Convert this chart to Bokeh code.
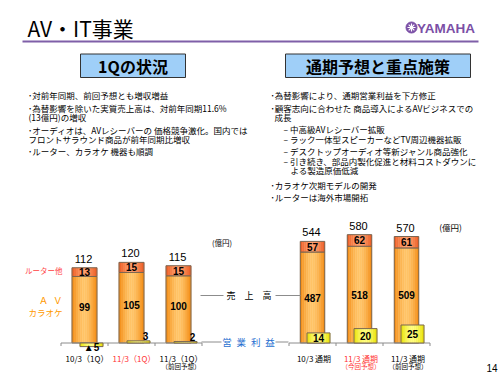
from bokeh.plotting import figure
from bokeh.models import Range1d
from bokeh.core.properties import value
from bokeh.embed import file_html
from bokeh.resources import INLINE

# ---------------- data ----------------
q_cats = ["10/3（1Q）", "11/3（1Q）", "11/3（1Q）"]
q_subs = ["", "", "（前回予想）"]
q_cat_colors = ["#000000", "#FF3333", "#000000"]
q_av = [99, 105, 100]
q_other = [13, 15, 15]
q_total = [112, 120, 115]
q_profit = [-5, 3, 2]
q_profit_labels = ["▲5", "3", "2"]

fy_cats = ["10/3 通期", "11/3 通期", "11/3 通期"]
fy_subs = ["", "（今回予想）", "（前回予想）"]
fy_cat_colors = ["#000000", "#FF3333", "#000000"]
fy_av = [487, 518, 509]
fy_other = [57, 62, 61]
fy_total = [544, 580, 570]
fy_profit = [14, 20, 25]
fy_profit_labels = ["14", "20", "25"]

left_lines = [
    "･対前年同期、前回予想とも増収増益",
    "･為替影響を除いた実質売上高は、対前年同期11.6%",
    "(13億円)の増収",
    "･オーディオは、AVレシーバーの 価格競争激化。国内では",
    "フロントサラウンド商品が前年同期比増収",
    "･ルーター、カラオケ 機器も順調",
]
right_lines = [
    "･為替影響により、通期営業利益を下方修正",
    "･顧客志向に合わせた 商品導入によるAVビジネスでの",
    "成長",
    "–  中高級AVレシーバー拡販",
    "–  ラック一体型スピーカーなどTV周辺機器拡販",
    "–  デスクトップオーディオ等新ジャンル商品強化",
    "–  引き続き、部品内製化促進と材料コストダウンに",
    "よる製造原価低減",
    "･カラオケ次期モデルの開発",
    "･ルーターは海外市場開拓",
]

# ---------------- layout / style ----------------
JP = "Noto Sans CJK JP"
NUM = "Liberation Sans"
W, H = 500, 375
X0, Y0 = 0, 0
BASE = 342.5
S_Q, S_FY, S_OP = 0.672, 0.1868, 0.72

p = figure(width=W, height=H, x_range=Range1d(X0, X0 + W), y_range=Range1d(Y0 + H, Y0),
           output_backend="svg", toolbar_location=None, x_axis_type=None, y_axis_type=None,
           min_border=0, outline_line_color=None, background_fill_color="white",
           border_fill_color="white")
p.grid.visible = False


def rng(s):
    a = -(Y0 + H - BASE) / s
    return Range1d(a, a + H / s)


p.extra_y_ranges = {"q": rng(S_Q), "fy": rng(S_FY), "op": rng(S_OP)}


def txt(x, y, t, size, color="#000000", align="left", baseline="middle", font=JP,
        style="normal", rname="default", yoff=0):
    xs = x if isinstance(x, list) else [x]
    ys = y if isinstance(y, list) else [y]
    ts = t if isinstance(t, list) else [t]
    p.text(x=xs, y=ys, text=ts, text_font=value(font), text_font_size=size,
           text_color=color, text_align=align, text_baseline=baseline,
           text_font_style=style, y_range_name=rname, y_offset=yoff)


def mix(c1, c2, t):
    a = [int(c1[i:i + 2], 16) for i in (1, 3, 5)]
    b = [int(c2[i:i + 2], 16) for i in (1, 3, 5)]
    return "#%02x%02x%02x" % tuple(round(a[k] + (b[k] - a[k]) * t) for k in range(3))


BORDER = "#7a6652"


def grad_bars(xcs, w, bottoms, tops, c_edge, c_mid, rname, n=12):
    xs, ws, bs, ts, cs = [], [], [], [], []
    for xc, b, t in zip(xcs, bottoms, tops):
        for k in range(n):
            x = xc - w / 2 + (k + 0.5) * w / n
            f = abs(x - xc) / (w / 2)
            xs.append(x); ws.append(w / n + 0.4); bs.append(b); ts.append(t)
            cs.append(mix(c_mid, c_edge, f ** 1.6))
    p.vbar(x=xs, width=ws, bottom=bs, top=ts, fill_color=cs, line_color=None, y_range_name=rname)
    p.vbar(x=xcs, width=w, bottom=bottoms, top=tops, fill_color=None, line_color=BORDER,
           line_width=1, y_range_name=rname)


MAIN_EDGE, MAIN_MID = "#f28a12", "#ffc468"
TOP_EDGE, TOP_MID = "#ea5a22", "#ff9a66"
YEL_EDGE, YEL_MID = "#e8e000", "#ffff80"

# ---------------- header ----------------
txt(27, 27, "AV・IT事業", "21px")
p.segment(x0=[22], y0=[41], x1=[478], y1=[41], line_color="#7f5fa8", line_width=2)
p.scatter(x=[411], y=[27], size=11, marker="circle", fill_color="#7b4fa6", line_color="#7b4fa6")
p.scatter(x=[411], y=[27], size=8, marker="asterisk", line_color="white", line_width=1.2)
txt(416.5, 27.5, "YAMAHA", "13.5px", color="#7b4fa6", font=NUM, style="bold")

# section boxes
p.quad(left=[80, 285], right=[185, 470], top=[53.5, 53.5], bottom=[77, 77],
       fill_color="#9fcff8", line_color="#333333", line_width=1)
txt(132.5, 65.5, "1Qの状況", "16px", align="center", style="bold")
txt(377.5, 65.5, "通期予想と重点施策", "16px", align="center", style="bold")

left_x = [27.5, 27.5, 28, 27.5, 28, 27.5]
left_y = [94.3, 107.3, 116.5, 129, 138.3, 150]
txt(left_x, left_y, left_lines, "8.5px")
right_x = [270, 270, 274, 283, 283, 283, 283, 290, 270, 270]
right_y = [94.3, 107.3, 116.7, 128.3, 138.3, 150, 160.5, 169.5, 184.5, 196.5]
txt(right_x, right_y, right_lines, "8.5px")

# ---------------- chart ----------------
SP = 47
qx = [84 + i * SP for i in range(3)]
fx = [312 + i * SP for i in range(3)]

# quarterly sales bars
grad_bars(qx, 25, [0] * 3, q_av, MAIN_EDGE, MAIN_MID, "q")
grad_bars(qx, 25, q_av, q_total, TOP_EDGE, TOP_MID, "q")
# annual sales bars
grad_bars(fx, 24.5, [0] * 3, fy_av, MAIN_EDGE, MAIN_MID, "fy")
grad_bars(fx, 24.5, fy_av, fy_total, TOP_EDGE, TOP_MID, "fy")

# baselines with ticks
for xs in (qx, fx):
    a, b = xs[0] - SP / 2, xs[-1] + SP / 2
    ticks = [a, (xs[0] + xs[1]) / 2, (xs[1] + xs[2]) / 2, b]
    p.segment(x0=[a], y0=[BASE], x1=[b], y1=[BASE], line_color="#8c8c8c", line_width=1)
    p.segment(x0=ticks, y0=[BASE] * 4, x1=ticks, y1=[BASE + 3] * 4, line_color="#8c8c8c", line_width=1)

# operating profit bars
qpx = [x + 7 for x in qx]
fpx = [x + 6 for x in fx]
grad_bars(qpx, 23, [0] * 3, q_profit, YEL_EDGE, YEL_MID, "op")
grad_bars(fpx, 23, [0] * 3, fy_profit, YEL_EDGE, YEL_MID, "op")

# value labels
txt([x - 1 for x in qx], q_total, [str(v) for v in q_total], "11px", font=NUM,
    align="center", baseline="bottom", rname="q", yoff=-5)
txt([x - 1 for x in fx], fy_total, [str(v) for v in fy_total], "11px", font=NUM,
    align="center", baseline="bottom", rname="fy", yoff=-5)
txt(qx, [a + o / 2 for a, o in zip(q_av, q_other)], [str(v) for v in q_other], "10px",
    font=NUM, style="bold", align="center", rname="q")
txt(qx, [a / 2 for a in q_av], [str(v) for v in q_av], "10px", font=NUM, style="bold",
    align="center", rname="q", yoff=-3)
txt(fx, [a + o / 2 for a, o in zip(fy_av, fy_other)], [str(v) for v in fy_other], "10px",
    font=NUM, style="bold", align="center", rname="fy")
txt(fx, [a / 2 for a in fy_av], [str(v) for v in fy_av], "10px", font=NUM, style="bold",
    align="center", rname="fy")
txt(fpx, [v / 2 for v in fy_profit], fy_profit_labels, "10px", font=NUM, style="bold",
    align="center", rname="op")
# small quarterly profits: negative below, positive above right end
neg = [i for i, v in enumerate(q_profit) if v < 0]
pos = [i for i, v in enumerate(q_profit) if v >= 0]
txt([qpx[i] for i in neg], [q_profit[i] for i in neg], [q_profit_labels[i] for i in neg],
    "10px", font=NUM, style="bold", align="center", rname="op", yoff=1)
txt([qpx[i] + 7 for i in pos], [q_profit[i] for i in pos], [q_profit_labels[i] for i in pos],
    "10px", font=NUM, style="bold", align="center", baseline="bottom", rname="op", yoff=-1)

# units
txt(221.5, 241.5, "(億円)", "7.5px", align="center")
txt(450, 226.5, "(億円)", "8.5px", align="center")

# series labels (left)
txt(62, 269.5, "ルーター他", "7.5px", color="#ff4040", align="right")
txt(62, 299, "Ａ\u2002Ｖ", "9.5px", color="#ff9900", align="right")
txt(62, 311.5, "カラオケ", "8.5px", color="#ff9900", align="right")

# center labels with leader lines
p.segment(x0=[200, 275, 201, 275], y0=[295, 295, 341.5, 341.5],
          x1=[223, 300, 221, 288], y1=[295, 295, 341.5, 341.5], line_color="#8c8c8c", line_width=1)
txt(248.5, 295, "売\u3000上\u3000高", "9px", align="center")
txt(248, 341.5, "営\u2002業\u2002利\u2002益", "9.5px", color="#1f6fd0", align="center")

# category labels
for i in range(3):
    txt(qx[i] + 2.5, 357.5, q_cats[i], "8px", color=q_cat_colors[i], align="center")
    if q_subs[i]:
        txt(qx[i] + 2.5, 365.5, q_subs[i], "6.5px", color=q_cat_colors[i], align="center")
    txt(fx[i] + 1.5, 357.5, fy_cats[i], "8px", color=fy_cat_colors[i], align="center")
    if fy_subs[i]:
        txt(fx[i] + 1.5, 365.5, fy_subs[i], "6.5px", color=fy_cat_colors[i], align="center")

# page number
txt(491.5, 367, "14", "10px", font=NUM, align="center")

open("out.html", "w").write(file_html(p, INLINE))
